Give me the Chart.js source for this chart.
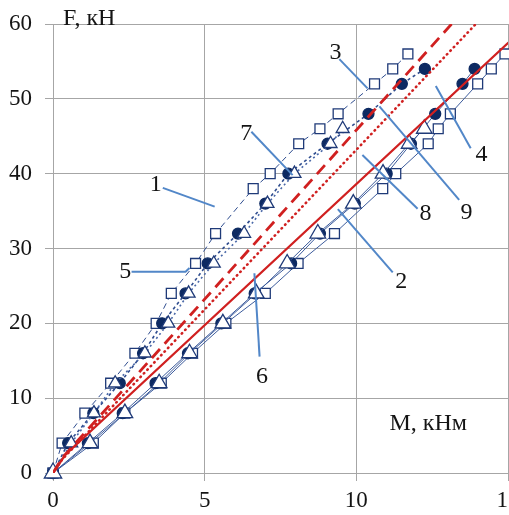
<!DOCTYPE html>
<html>
<head>
<meta charset="utf-8">
<script src="https://cdn.jsdelivr.net/npm/chart.js@4/dist/chart.umd.min.js"></script>
<style>
  html, body { margin: 0; padding: 0; background: #fff; }
  #wrap { width: 509px; height: 515px; }
</style>
</head>
<body>
<div id="wrap"><canvas id="chart"></canvas></div>
<script>
// Upper group: open squares
const upSqM = [0, 0.3, 1.05, 1.9, 2.7, 3.4, 3.9, 4.7, 5.36, 6.6, 7.16, 8.1, 8.8, 9.4, 10.6, 11.2, 11.7];
const upSqF = [0, 4, 8, 12, 16, 20, 24, 28, 32, 38, 40, 44, 46, 48, 52, 54, 56];
// Upper group: filled circles
const upCiM = [0, 0.5, 1.33, 2.2, 2.97, 3.6, 4.37, 5.1, 6.1, 7.0, 7.76, 9.05, 10.4, 11.5, 12.26];
const upCiF = [0, 4, 8, 12, 16, 20, 24, 28, 32, 36, 40, 44, 48, 52, 54];
// Upper group: open triangles
const upTrM = [0, 0.6, 1.35, 2.05, 3.03, 3.8, 4.47, 5.3, 6.3, 7.07, 7.96, 9.15, 9.55];
const upTrF = [0, 4, 8, 12, 16, 20, 24, 28, 32, 36, 40, 44, 46];
// Lower group: open squares
const loSqM = [0, 1.33, 2.37, 3.57, 4.6, 5.7, 7.0, 8.08, 9.28, 10.87, 11.3, 12.37, 12.7, 13.1, 14.0, 14.45, 14.9];
const loSqF = [0, 4, 8, 12, 16, 20, 24, 28, 32, 38, 40, 44, 46, 48, 52, 54, 56];
// Lower group: filled circles
const loCiM = [0, 1.15, 2.3, 3.38, 4.45, 5.55, 6.65, 7.85, 8.8, 9.95, 11.0, 11.8, 12.6, 13.5, 13.9];
const loCiF = [0, 4, 8, 12, 16, 20, 24, 28, 32, 36, 40, 44, 48, 52, 54];
// Lower group: open triangles
const loTrM = [0, 1.22, 2.37, 3.5, 4.5, 5.6, 6.7, 7.72, 8.73, 9.9, 10.88, 11.74, 12.24];
const loTrF = [0, 4, 8, 12, 16, 20, 24, 28, 32, 36, 40, 44, 46];
// Red design lines
const redDashM = [0, 0.3, 13.14];
const redDashF = [0, 2, 60];
const redDotM = [0, 0.3, 13.94];
const redDotF = [0, 1.8, 60];
const redSolidM = [0, 0.4, 15.2];
const redSolidF = [0, 2.4, 58.2];

const xTicks = [0, 5, 10, 15];
const yTicks = [0, 10, 20, 30, 40, 50, 60];

// curve numbers: label position, leader from, leader to (in M, F)
const curveLabels = [
  { text: '1', at: [3.39, 38.5], from: [3.62, 38.1], to: [5.33, 35.6] },
  { text: '7', at: [6.37, 45.4], from: [6.54, 45.6], to: [7.9, 39.8] },
  { text: '3', at: [9.31, 56.1], from: [9.44, 55.3], to: [10.37, 51.4] },
  { text: '4', at: [14.13, 42.5], from: [13.77, 43.4], to: [12.62, 51.7] },
  { text: '9', at: [13.63, 34.8], from: [13.39, 36.5], to: [10.76, 49.0] },
  { text: '8', at: [12.28, 34.7], from: [12.02, 35.3], to: [10.2, 42.5] },
  { text: '2', at: [11.48, 25.6], from: [11.2, 26.8], to: [9.39, 35.25] },
  { text: '6', at: [6.89, 12.9], from: [6.81, 15.55], to: [6.64, 26.7] },
  { text: '5', at: [2.38, 26.9], from: [2.59, 26.9], to: [4.37, 26.9], hook: [4.5, 27.4] }
];

const pts = (xs, ys) => xs.map((v, i) => ({ x: v, y: ys[i] }));

const navy = '#1f3a78';
const lineBlue = '#3d5c9c';
const red = '#d02020';

function markerSet(xs, ys, style, opts) {
  return Object.assign({
    data: pts(xs, ys),
    showLine: true,
    pointStyle: style,
    borderColor: lineBlue,
    borderWidth: 1,
    pointBorderColor: navy,
    pointBorderWidth: 1.3,
    pointBackgroundColor: '#fff',
    clip: false
  }, opts);
}

function redLine(xs, ys, dash, width, order, cap) {
  return {
    data: pts(xs, ys),
    showLine: true,
    pointRadius: 0,
    borderColor: red,
    borderWidth: width,
    borderDash: dash,
    borderCapStyle: cap || 'butt',
    order: order
  };
}

const datasets = [
  markerSet(upSqM, upSqF, 'rect', { pointRadius: 7, borderDash: [6, 4], borderColor: '#2f4d8f', order: 12 }),
  markerSet(loSqM, loSqF, 'rect', { pointRadius: 7, order: 11 }),
  markerSet(upCiM, upCiF, 'circle', { pointRadius: 5.5, borderDash: [3, 3], borderWidth: 1.6, borderColor: '#2f4d8f', pointBackgroundColor: '#0d2a62', pointBorderColor: '#0d2a62', order: 10 }),
  markerSet(loCiM, loCiF, 'circle', { pointRadius: 5.5, pointBackgroundColor: '#0d2a62', pointBorderColor: '#0d2a62', order: 9 }),
  markerSet(upTrM, upTrF, 'triangle', { pointRadius: 7.5, borderDash: [2, 3], borderWidth: 1.6, borderColor: '#4a68a8', order: 8 }),
  markerSet(loTrM, loTrF, 'triangle', { pointRadius: [10, 9, 9, 9, 9, 9, 9, 9, 9, 9, 9, 9, 9], order: 7 }),
  redLine(redDotM, redDotF, [0.5, 4.5], 2.6, 3, 'round'),
  redLine(redDashM, redDashF, [12, 7], 2.8, 2),
  redLine(redSolidM, redSolidF, [], 2.2, 1)
];

const serif = '"Liberation Serif", "Times New Roman", serif';

const textPlugin = {
  id: 'curveText',
  afterDatasetsDraw(chart) {
    const { ctx, scales: { x, y } } = chart;
    const px = p => [x.getPixelForValue(p[0]), y.getPixelForValue(p[1])];
    ctx.save();
    ctx.strokeStyle = '#5287c8';
    ctx.lineWidth = 2;
    curveLabels.forEach(l => {
      ctx.beginPath();
      ctx.moveTo(...px(l.from));
      ctx.lineTo(...px(l.to));
      if (l.hook) ctx.lineTo(...px(l.hook));
      ctx.stroke();
    });
    ctx.fillStyle = '#141414';
    ctx.font = '24px ' + serif;
    ctx.textAlign = 'center';
    ctx.textBaseline = 'middle';
    curveLabels.forEach(l => {
      ctx.fillText(l.text, ...px(l.at));
    });
    // axis names
    ctx.textAlign = 'left';
    ctx.textBaseline = 'alphabetic';
    ctx.fillText('F, кН', x.getPixelForValue(0.33), y.getPixelForValue(60) + 1);
    ctx.fillText('M, кНм', x.getPixelForValue(11.09), y.getPixelForValue(5.75));
    ctx.restore();
  }
};

new Chart(document.getElementById('chart'), {
  type: 'scatter',
  data: { datasets },
  options: {
    responsive: true,
    maintainAspectRatio: false,
    animation: false,
    layout: { autoPadding: false, padding: { top: 24, right: 1, left: 0, bottom: 0 } },
    plugins: { legend: { display: false }, tooltip: { enabled: false } },
    scales: {
      x: {
        type: 'linear',
        min: 0,
        max: 15,
        afterBuildTicks: s => { s.ticks = xTicks.map(v => ({ value: v })); },
        afterFit: s => { s.height = 42; s.paddingLeft = 0; s.paddingRight = 0; },
        grid: { color: '#a6a6a6', lineWidth: 1, tickLength: 8 },
        border: { color: '#a6a6a6' },
        ticks: { color: '#141414', padding: 6, maxRotation: 0, font: { family: serif, size: 23 } }
      },
      y: {
        type: 'linear',
        min: 0,
        max: 60,
        afterBuildTicks: s => { s.ticks = yTicks.map(v => ({ value: v })); },
        afterFit: s => { s.width = 53; s.paddingTop = 0; s.paddingBottom = 0; },
        grid: { color: '#a6a6a6', lineWidth: 1, tickLength: 8 },
        border: { color: '#a6a6a6' },
        ticks: { color: '#141414', padding: 13, font: { family: serif, size: 23 } }
      }
    }
  },
  plugins: [textPlugin]
});
</script>
</body>
</html>
